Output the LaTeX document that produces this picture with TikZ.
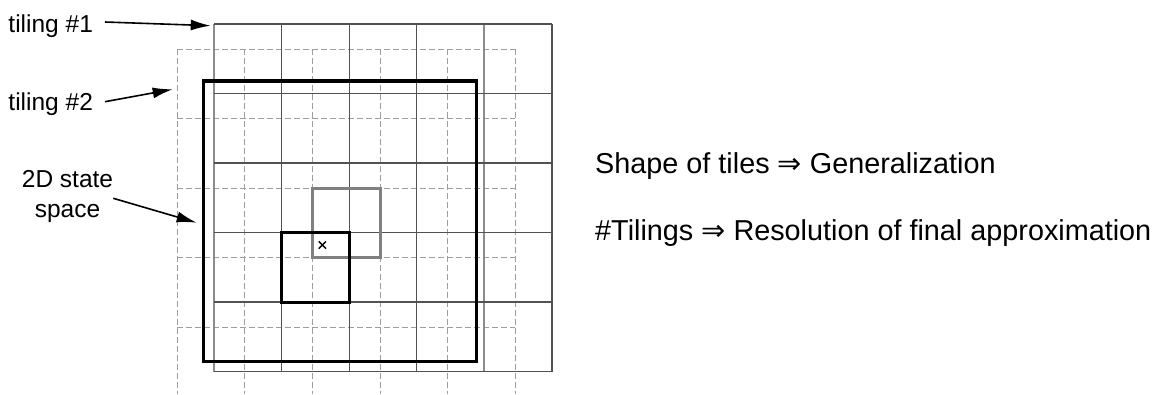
\documentclass[tikz,border=0pt]{standalone}
\usepackage{fontspec}
\setmainfont{Liberation Sans}
\newfontfamily\arrowfont{DejaVu Sans}
\usetikzlibrary{arrows.meta}
\begin{document}
\begin{tikzpicture}[x=1pt,y=-1pt,
  tileone/.style={draw=black!68,line width=1.2pt},
  tileoneedge/.style={draw=black!45,line width=2pt},
  tiletwo/.style={draw=black!38,line width=1pt,dash pattern=on 6pt off 3pt},
  statebox/.style={draw=black,line width=3.4pt,line join=miter},
  cellone/.style={draw=black,line width=3pt},
  celltwo/.style={draw=black!50,line width=3pt},
  labeltext/.style={font=\fontsize{24.5}{30}\selectfont,inner sep=0pt,align=center},
  bigtext/.style={font=\fontsize{28.8}{34}\selectfont,inner sep=0pt},
  pointer/.style={line width=1.6pt,-{Latex[length=20pt,width=11pt]}}]
\useasboundingbox (0,0) rectangle (1167,394);
% tiling #2 (dashed, light)
\foreach \i in {0,...,5} {
  \draw[tiletwo] ({177.3+67.6*\i},49.3) -- ({177.3+67.6*\i},394);
}
\foreach \j in {0,...,4} {
  \draw[tiletwo] (177.3,{49.3+69.5*\j}) -- (515.3,{49.3+69.5*\j});
}
% tiling #1 (solid)
\foreach \i in {1,2,3,5} {
  \draw[tileone] ({214+67.6*\i},24) -- ({214+67.6*\i},371.5);
}
\foreach \i in {0,4} {
  \draw[tileoneedge] ({214+67.6*\i},24) -- ({214+67.6*\i},371.5);
}
\foreach \j in {0,...,5} {
  \draw[tileone] (214,{24+69.5*\j}) -- (552,{24+69.5*\j});
}
% 2D state space
\draw[statebox] (203.3,81) rectangle (476.7,361.7);
% active tiles
\draw[celltwo] (312.5,188.3) rectangle (380.1,257.8);
\draw[cellone] (281.6,232.5) rectangle (349.2,302);
% the point
\coordinate (pt) at (322.3,245);
\draw[line width=1.4pt] ([shift={(-3.6,-3.6)}]pt) -- ([shift={(3.6,3.6)}]pt)
  ([shift={(-3.6,3.6)}]pt) -- ([shift={(3.6,-3.6)}]pt);
% labels
\node[labeltext,anchor=base west] (l1) at (8.3,32.3) {tiling \#1};
\node[labeltext,anchor=base west] (l2) at (8.3,110) {tiling \#2};
\node[labeltext,anchor=center] (l3) at (67.5,196) {2D state\\space};
\coordinate (s1) at (105,22);
\coordinate (a1) at (210.7,25.7);
\coordinate (s2) at (105,101.7);
\coordinate (a2) at (172.7,89.3);
\coordinate (s3) at (113.3,198.3);
\coordinate (a3) at (196.7,222.7);
\draw[pointer] (s1) -- (a1);
\draw[pointer] (s2) -- (a2);
\draw[pointer] (s3) -- (a3);
% right texts
\node[bigtext,anchor=base west] (t1) at (595,173.5) {Shape of tiles {\arrowfont ⇒} Generalization};
\node[bigtext,anchor=base west] (t2) at (595,240) {\#Tilings {\arrowfont ⇒} Resolution of final approximation};
\end{tikzpicture}
\end{document}
